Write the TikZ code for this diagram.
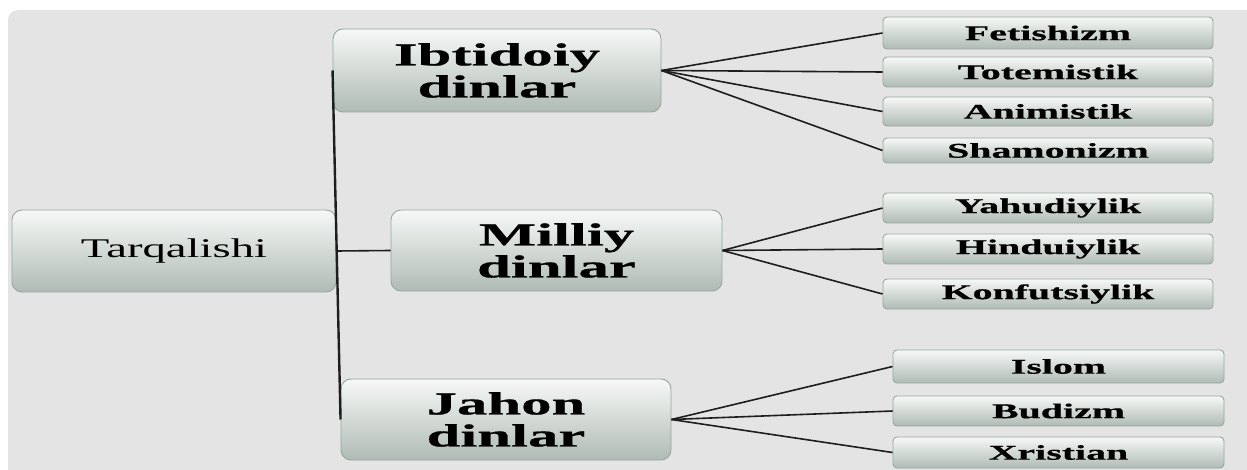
\documentclass[tikz,border=0pt]{standalone}
\usepackage{fontspec}
\setmainfont{Liberation Serif}
\newfontfamily\wideb[FakeStretch=1.9,FakeBold=0.6]{Liberation Serif}
\newfontfamily\widen[FakeStretch=1.73]{Liberation Serif}
\definecolor{bg}{RGB}{228,228,228}
\definecolor{boxtop}{RGB}{246,248,247}
\definecolor{boxmid}{RGB}{212,219,215}
\definecolor{boxbot}{RGB}{176,187,181}
\definecolor{boxedge}{RGB}{148,168,158}
\definecolor{conn}{RGB}{30,30,30}
\tikzset{
  box/.style={draw=boxedge, line width=0.9pt, top color=boxtop, middle color=boxmid, bottom color=boxbot, inner sep=0pt, align=center},
  bigbox/.style={box, rounded corners=10pt, minimum width=#1, font=\wideb\bfseries\fontsize{32}{32}\selectfont},
  rootbox/.style={box, rounded corners=10pt, minimum width=324pt, minimum height=82pt, font=\widen\fontsize{27}{27}\selectfont},
  leaf/.style={box, rounded corners=4pt, minimum width=330pt, font=\wideb\bfseries\fontsize{21}{21}\selectfont},
  link/.style={draw=conn, line width=1.6pt},
  trunk/.style={draw=conn, line width=2.4pt},
}
\begin{document}
\begin{tikzpicture}[x=1pt,y=-1pt]
\useasboundingbox (0,0) rectangle (1247,470);
\clip (0,0) rectangle (1247,470);
\fill[bg, rounded corners=10pt] (8,10) rectangle (1265,490);

\node[rootbox] (tar) at (174,251) {Tarqalishi};
\node[bigbox=328pt, minimum height=83pt] (ibt) at (497,70.5) {Ibtidoiy\\dinlar};
\node[bigbox=331pt, minimum height=81pt] (mil) at (556.5,250.5) {Milliy\\dinlar};
\node[bigbox=330pt, minimum height=81pt] (jah) at (506,419.5) {Jahon\\dinlar};

\node[leaf, minimum height=32pt] (fet) at (1048,33) {Fetishizm};
\node[leaf, minimum height=30pt] (tot) at (1048,72) {Totemistik};
\node[leaf, minimum height=29pt] (ani) at (1048,111.5) {Animistik};
\node[leaf, minimum height=25pt] (sha) at (1048,150.5) {Shamonizm};

\node[leaf, minimum height=30pt] (yah) at (1048,208) {Yahudiylik};
\node[leaf, minimum height=30pt] (hin) at (1048,249) {Hinduiylik};
\node[leaf, minimum height=30pt] (kon) at (1048,294) {Konfutsiylik};

\node[leaf, minimum width=331pt, minimum height=33pt] (isl) at (1058.5,366.5) {Islom};
\node[leaf, minimum width=331pt, minimum height=30pt] (bud) at (1058.5,411) {Budizm};
\node[leaf, minimum width=331pt, minimum height=31pt] (xri) at (1058.5,452.5) {Xristian};

\draw[trunk] (ibt.west) -- (jah.west);
\draw[link] (tar.east) -- (mil.west);

\foreach \t in {fet,tot,ani,sha} \draw[link] (ibt.east) -- (\t.west);
\foreach \t in {yah,hin,kon} \draw[link] (mil.east) -- (\t.west);
\foreach \t in {isl,bud,xri} \draw[link] (jah.east) -- (\t.west);
\end{tikzpicture}
\end{document}
